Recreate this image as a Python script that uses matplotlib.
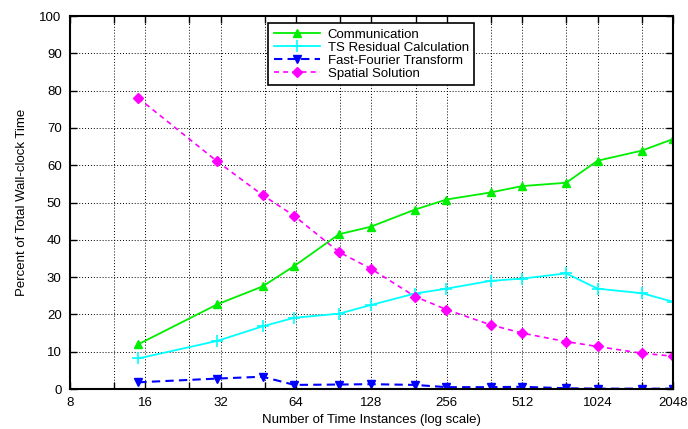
import matplotlib
matplotlib.use('Agg')
import matplotlib.pyplot as plt

plt.rcParams['font.family'] = ['Liberation Sans', 'DejaVu Sans']

ninst = [15, 31, 47, 63, 95, 127, 191, 255, 383, 511, 767, 1023, 1535, 2047]
comm = [12.0, 22.7, 27.5, 33.0, 41.5, 43.5, 48.1, 50.8, 52.7, 54.4, 55.3, 61.2, 63.9, 67.0]
tsres = [8.2, 12.9, 16.8, 19.1, 20.2, 22.5, 25.6, 26.9, 29.0, 29.6, 31.0, 26.9, 25.7, 23.4]
fft = [1.8, 2.8, 3.3, 1.1, 1.2, 1.3, 1.1, 0.5, 0.5, 0.6, 0.2, 0.1, 0.1, 0.1]
spatial = [78.0, 61.0, 52.0, 46.4, 36.7, 32.3, 24.8, 21.3, 17.2, 15.0, 12.7, 11.4, 9.6, 8.8]

grid_x = [8, 12, 16, 24, 32, 48, 64, 96, 128, 192, 256, 384, 512, 768, 1024, 1536, 2048]
label_x = [8, 16, 32, 64, 128, 256, 512, 1024, 2048]

fig = plt.figure(figsize=(6.88, 4.29), dpi=100)
ax = fig.add_axes([0.1017, 0.0932, 0.8765, 0.8695])

ax.plot(ninst, comm, '-', color='#00ee00', lw=1.3, marker='^', ms=6, label='Communication')
ax.plot(ninst, tsres, '-', color='#00ffff', lw=1.3, marker='+', ms=8, mew=1.2, label='TS Residual Calculation')
ax.plot(ninst, fft, '--', color='#0000ff', lw=1.5, marker='v', ms=6, dashes=(4, 2.5), label='Fast-Fourier Transform')
ax.plot(ninst, spatial, '--', color='#ff00ff', lw=1.2, marker='D', ms=5, dashes=(3, 2.5), label='Spatial Solution')

ax.set_xscale('log', base=2)
ax.set_xlim(8, 2048)
ax.set_ylim(0, 100)
ax.set_xticks(grid_x)
ax.set_xticklabels([str(v) if v in label_x else '' for v in grid_x])
ax.xaxis.set_minor_locator(matplotlib.ticker.NullLocator())
ax.set_yticks(range(0, 101, 10))

ax.grid(True, color='black', linestyle=(0, (1, 2)), linewidth=0.7)
ax.tick_params(direction='in', top=True, right=True, length=5, width=1, labelsize=9.5, pad=6)
for s in ax.spines.values():
    s.set_linewidth(1.5)

ax.set_xlabel('Number of Time Instances (log scale)', fontsize=9.5, labelpad=3)
ax.set_ylabel('Percent of Total Wall-clock Time', fontsize=9.5, labelpad=8)

leg = ax.legend(loc='upper left', bbox_to_anchor=(0.318, 0.998), fontsize=9.5, frameon=True,
                fancybox=False, framealpha=1, edgecolor='black', handlelength=3.5,
                borderpad=0.4, labelspacing=0.05, handletextpad=0.6)
leg.get_frame().set_linewidth(1.2)

fig.savefig('out.png', dpi=100)
